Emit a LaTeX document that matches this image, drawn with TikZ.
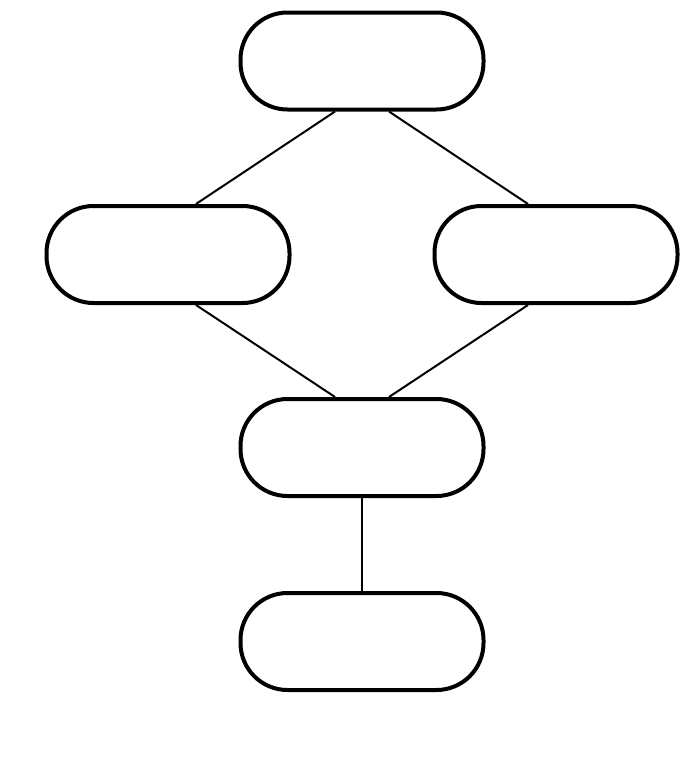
\documentclass[tikz,border=0pt]{standalone}
\begin{document}
\begin{tikzpicture}[x=1pt,y=-1pt,
  box/.style={draw=black,line width=4pt,rectangle,rounded corners=47pt,minimum width=243pt,minimum height=97pt,inner sep=0pt,fill=white},
  conn/.style={draw=black,line width=2pt}]
\useasboundingbox (0,0) rectangle (696,782);
\node[box] (top) at (362,61) {};
\node[box] (left) at (168,254.5) {};
\node[box] (right) at (556,254.5) {};
\node[box] (mid) at (362,447.5) {};
\node[box] (bot) at (362,641.5) {};
\draw[conn] ([xshift=-27pt]top.south) -- ([xshift=28pt]left.north);
\draw[conn] ([xshift=27pt]top.south) -- ([xshift=-28pt]right.north);
\draw[conn] ([xshift=28pt]left.south) -- ([xshift=-27pt]mid.north);
\draw[conn] ([xshift=-28pt]right.south) -- ([xshift=27pt]mid.north);
\draw[conn] (mid.south) -- (bot.north);
\end{tikzpicture}
\end{document}
